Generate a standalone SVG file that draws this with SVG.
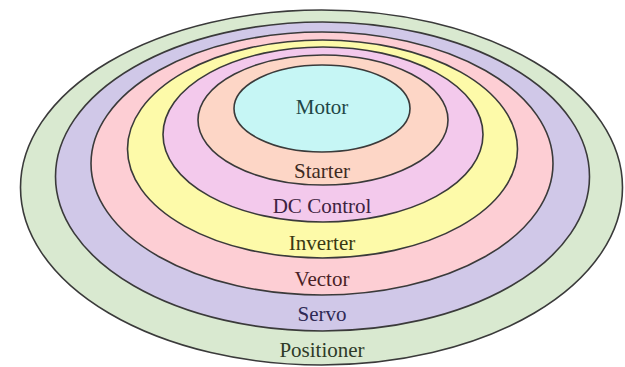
<svg xmlns="http://www.w3.org/2000/svg" width="625" height="367" viewBox="0 0 625 367">
  <style>
    .ring { stroke: #3a3a3a; stroke-width: 1.6; }
    .lbl { font-family: "Liberation Serif", "Times New Roman", serif; font-size: 21px; text-anchor: middle; }
  </style>
  <rect x="0" y="0" width="625" height="367" fill="#ffffff"/>
  <g id="positioner">
    <ellipse class="ring" cx="321.5" cy="187.5" rx="301" ry="177.5" fill="#d9e9d0"/>
    <text class="lbl" x="322" y="357" fill="#2e3a28">Positioner</text>
  </g>
  <g id="servo">
    <ellipse class="ring" cx="322.5" cy="176.5" rx="267" ry="154.5" fill="#d0c8e8"/>
    <text class="lbl" x="322" y="321" fill="#2f2a55">Servo</text>
  </g>
  <g id="vector">
    <ellipse class="ring" cx="322" cy="163.5" rx="231" ry="131.5" fill="#fdced4"/>
    <text class="lbl" x="322" y="286" fill="#4a1f26">Vector</text>
  </g>
  <g id="inverter">
    <ellipse class="ring" cx="322.5" cy="149" rx="195" ry="109" fill="#fdfaa9"/>
    <text class="lbl" x="322" y="250" fill="#3a3812">Inverter</text>
  </g>
  <g id="dc-control">
    <ellipse class="ring" cx="323" cy="134.5" rx="160" ry="87.5" fill="#f3c9ec"/>
    <text class="lbl" x="322" y="213" fill="#3d2240">DC Control</text>
  </g>
  <g id="starter">
    <ellipse class="ring" cx="323" cy="120" rx="125" ry="65" fill="#fdd6c6"/>
    <text class="lbl" x="322" y="178" fill="#3e2a22">Starter</text>
  </g>
  <g id="motor">
    <ellipse class="ring" cx="322" cy="108.5" rx="88" ry="43.5" fill="#c6f6f5"/>
    <text class="lbl" x="322" y="114" fill="#1f4646">Motor</text>
  </g>
  <g id="connectors"/>
</svg>
